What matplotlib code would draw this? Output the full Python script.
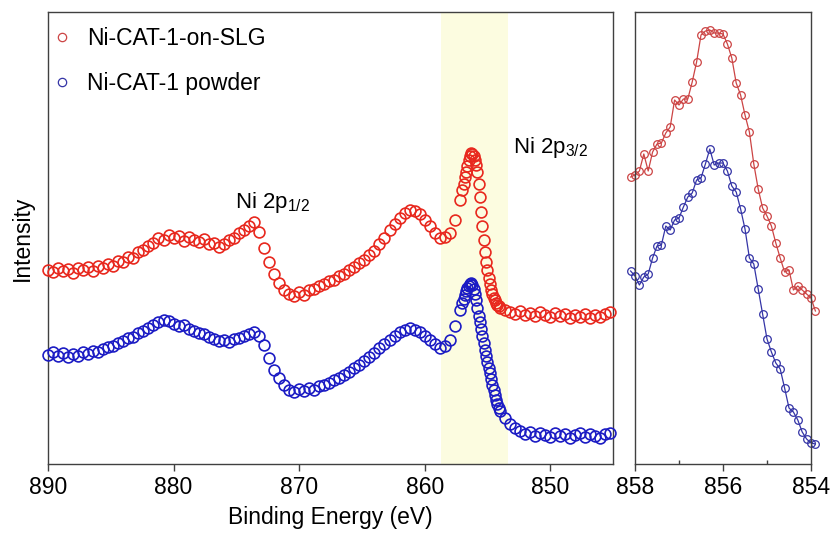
import matplotlib
matplotlib.use('Agg')
import matplotlib.pyplot as plt
from matplotlib.lines import Line2D
import numpy as np

plt.rcParams['font.family'] = ['Liberation Sans', 'DejaVu Sans']
plt.rcParams['mathtext.default'] = 'regular'

# binding energy grid (eV): coarse on the shoulders, fine across the 2p3/2 peak
be_coarse_hi = np.round(np.arange(890.0, 857.0, -0.4), 1)
be_fine = np.round(np.arange(857.0, 853.95, -0.1), 1)
be_coarse_lo = np.round(np.arange(853.6, 845.0, -0.4), 1)
be_full = np.concatenate([be_coarse_hi, be_fine, be_coarse_lo])

# Ni-CAT-1-on-SLG, offset intensity (a.u.)
slg_full = [
    230, 228, 232, 229, 231, 227, 232, 230, 233, 229, 234,
    232, 236, 234, 239, 238, 243, 242, 248, 250, 254,
    257, 262, 260, 265, 262, 264, 259, 263, 260, 258,
    261, 256, 257, 253, 256, 260, 262, 267, 270, 274,
    278, 268, 252, 238, 226, 217, 210, 206, 204, 208,
    205, 210, 211, 214, 216, 219, 220, 224, 226, 230,
    233, 237, 240, 245, 249, 256, 262, 270, 276, 282,
    287, 290, 289, 286, 280, 274, 267, 262, 263, 267,
    280, 300,
    310, 316, 323, 328, 334, 340, 344, 347, 346, 344,
    340, 335, 328, 316, 303, 288, 274, 260, 248, 238,
    230, 222, 216, 210, 206, 202, 200, 197, 195, 194, 192,
    190, 188, 186, 189, 185, 187, 184, 188, 185, 183,
    187, 184, 186, 182, 185, 183, 186, 182, 185, 183, 186, 188,
]

# Ni-CAT-1 powder, offset intensity (a.u.)
powder_full = [
    145, 148, 144, 147, 143, 146, 144, 148, 146, 149, 148,
    151, 153, 154, 157, 159, 162, 163, 167, 169, 172,
    175, 178, 180, 179, 176, 174, 175, 171, 169, 167,
    166, 163, 161, 159, 160, 158, 161, 162, 164, 166,
    168, 164, 155, 142, 130, 122, 115, 110, 108, 111,
    109, 112, 110, 114, 115, 117, 120, 122, 125, 128,
    132, 135, 139, 143, 147, 152, 156, 160, 164, 168,
    170, 172, 170, 168, 164, 160, 156, 152, 154, 160,
    174, 190,
    197, 201, 205, 209, 212, 214, 216, 217, 215, 211,
    206, 200, 192, 184, 178, 171, 164, 157, 150, 144,
    138, 132, 127, 121, 115, 110, 105, 100, 96, 92, 89,
    82, 76, 72, 69, 66, 68, 64, 67, 65, 63,
    67, 64, 66, 62, 65, 67, 63, 66, 64, 62, 66, 67,
]

# zoomed 2p3/2 region, 0.1 eV steps
be_zoom = np.round(np.arange(858.1, 853.85, -0.1), 1)
slg_zoom = [
    323, 325, 329, 346, 329, 348, 356, 357, 367, 373,
    400, 395, 401, 401, 418, 438, 465, 469, 470, 467,
    467, 466, 456, 442, 417, 405, 385, 368, 336, 311,
    292, 284, 274, 257, 242, 228, 230, 210, 214, 210,
    206, 202, 189,
]
powder_zoom = [
    229, 224, 215, 223, 226, 242, 254, 255, 274, 270,
    280, 282, 293, 303, 307, 320, 322, 336, 351, 335,
    337, 337, 329, 314, 308, 291, 271, 242, 236, 211,
    186, 161, 148, 137, 131, 112, 92, 88, 80, 68,
    61, 57, 56,
]

labels = ['Ni-CAT-1-on-SLG', 'Ni-CAT-1 powder']
full_ticks = [890, 880, 870, 860, 850]
zoom_ticks = [858, 856, 854]

red = '#e8281e'
blue = '#1c1cc4'
red_z = '#cc4444'
blue_z = '#3434a6'
spine_c = '#404040'
fs = 16.5

fig = plt.figure(figsize=(8.35, 5.34), dpi=100)
ax = fig.add_axes([48 / 835, 70 / 534, 565 / 835, 452 / 534])
ax2 = fig.add_axes([635 / 835, 70 / 534, 176 / 835, 452 / 534])

ax.axvspan(858.7, 853.4, color='#fcfce0', zorder=0, lw=0)
ax.plot(be_full, slg_full, 'o', mfc='none', mec=red, ms=7.8, mew=1.2,
        clip_on=False, zorder=3)
ax.plot(be_full, powder_full, 'o', mfc='none', mec=blue, ms=7.8, mew=1.2,
        clip_on=False, zorder=3)
ax.set_xlim(890, 845)
ax.set_ylim(36, 488)
ax.set_xticks(full_ticks)
ax.set_yticks([])
ax.tick_params(axis='x', direction='out', length=5, width=1, colors=spine_c,
               labelcolor='black', labelsize=fs, pad=4)
ax.set_xlabel('Binding Energy (eV)', fontsize=fs, labelpad=5)
ax.set_ylabel('Intensity', fontsize=fs, labelpad=10)

ax.text(875.1, 292, 'Ni 2p$_{1/2}$', fontsize=16, va='baseline')
ax.text(853.0, 347, 'Ni 2p$_{3/2}$', fontsize=16, va='baseline')

handles = [
    Line2D([], [], ls='none', marker='o', mfc='none', mec=red_z, ms=6, mew=0.9),
    Line2D([], [], ls='none', marker='o', mfc='none', mec=blue_z, ms=6, mew=0.9),
]
ax.legend(handles, labels, loc='upper left', frameon=False, fontsize=fs,
          handlelength=0.6, handletextpad=0.8, labelspacing=0.95,
          borderpad=0.3, borderaxespad=0.0, bbox_to_anchor=(0.0, 0.982))

ax2.plot(be_zoom, slg_zoom, '-o', color=red_z, mfc='none', mec=red_z, ms=5.5,
         mew=0.9, lw=0.9, clip_on=False)
ax2.plot(be_zoom, powder_zoom, '-o', color=blue_z, mfc='none', mec=blue_z,
         ms=5.5, mew=0.9, lw=0.9, clip_on=False)
ax2.set_xlim(858, 854)
ax2.set_ylim(36, 488)
ax2.set_xticks(zoom_ticks)
ax2.set_xticks([857, 855], minor=True)
ax2.set_yticks([])
ax2.tick_params(axis='x', which='major', direction='out', length=5, width=1,
                colors=spine_c, labelcolor='black', labelsize=fs, pad=4)
ax2.tick_params(axis='x', which='minor', direction='in', length=3, width=1,
                colors=spine_c)

for a in (ax, ax2):
    for s in a.spines.values():
        s.set_color(spine_c)
        s.set_linewidth(1.0)

fig.savefig('out.png', dpi=100)
